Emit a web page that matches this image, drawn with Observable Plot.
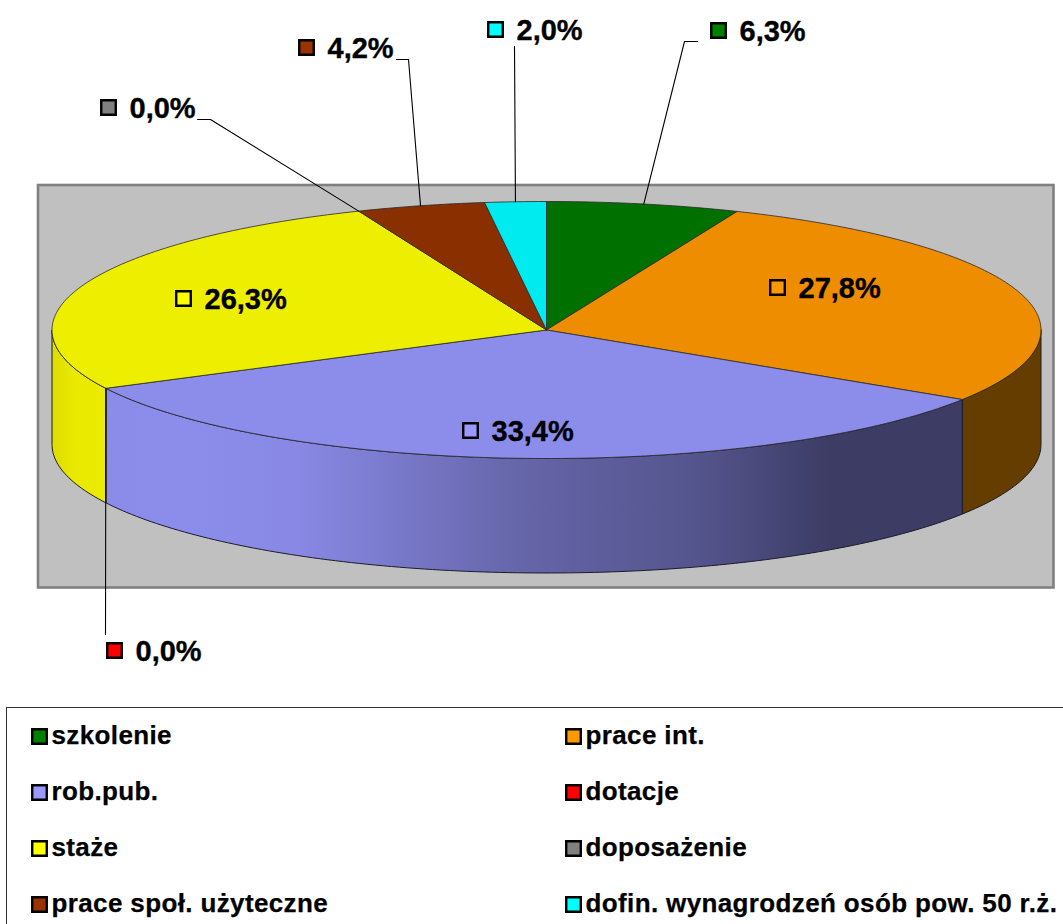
<!DOCTYPE html>
<html>
<head>
<meta charset="utf-8">
<style>
html,body{margin:0;padding:0;background:#fff;overflow:hidden}
svg{display:block}
</style>
<script src="https://cdn.jsdelivr.net/npm/d3@7"></script>
<script src="https://cdn.jsdelivr.net/npm/@observablehq/plot@0.6"></script>
</head>
<body>
<script>
// DATA
const categories = ["szkolenie","prace int.","rob.pub.","dotacje","staże","doposażenie","prace społ. użyteczne","dofin. wynagrodzeń osób pow. 50 r.ż."];
const values = [6.3,27.8,33.4,0,26.3,0,4.2,2.0];
const valueLabels = ["6,3%","27,8%","33,4%","0,0%","26,3%","0,0%","4,2%","2,0%"];
const legendColors = ["#008000","#ff9900","#9999ff","#ff0000","#ffff00","#808080","#993300","#00ffff"];
const topColors = ["#007000","#ee8d00","#8c8ceb","#ee0000","#eeee00","#787878","#8a2f00","#00ebf0"];

// LAYOUT (page pixels)
const W = 1063, H = 924;
const cx = 546, cy = 329.5, rx = 494.5, ry = 128.5, depthPx = 114.5;
const labelPos = [[718,30],[777,287],[470,430],[114,650],[183,298],[108,107],[306,47],[495,29]];
const labelTextDx = 21;
const labelTextDy = 1;
const elbows = {0:[[697,41],[684,41]],3:[[105,634]],5:[[197,119],[210,119]],6:[[396,59],[408,59]],7:[[514,46]]};
const legendCols = [39,573], legendRows = [736,792,848,904];
const shadeStops = [[52,.93],[75,.985],[180,1],[300,.97],[520,.72],[700,.6],[830,.43],[1040,.43]];

// px -> pie units
const ux = px => (px - cx) / rx;
const uy = py => (cy - py) / ry;
const depth = depthPx / ry;

// cumulative angles
const total = d3.sum(values);
let acc = 0;
const slices = values.map((v,i) => {
  const a0 = acc / total * 2 * Math.PI; acc += v;
  const a1 = acc / total * 2 * Math.PI;
  return {i, v, a0, a1, mid:(a0+a1)/2};
});
const arcPts = (a0,a1) => {
  const n = Math.max(2, Math.ceil((a1-a0)/(Math.PI/180)));
  return d3.range(n+1).map(k => a0 + (a1-a0)*k/n);
};
const topPoly = s => [{x:0,y:0}, ...arcPts(s.a0,s.a1).map(a=>({x:Math.sin(a),y:Math.cos(a)})), {x:0,y:0}];
const wallPoly = (a0,a1) => {
  const p = arcPts(a0,a1);
  const top = p.map(a=>({x:Math.sin(a),y:Math.cos(a)}));
  const bot = p.slice().reverse().map(a=>({x:Math.sin(a),y:Math.cos(a)-depth}));
  return [...top,...bot,top[0]];
};
const visible = slices.filter(s=>s.v>0);
const walls = visible.map(s=>{
  const a0=Math.max(s.a0,Math.PI/2), a1=Math.min(s.a1,3*Math.PI/2);
  return a1>a0 ? {i:s.i,pts:wallPoly(a0,a1)} : null;
}).filter(Boolean);

const defs = () => {
  const d = d3.create("svg:defs");
  walls.forEach(w=>{
    const g = d.append("linearGradient").attr("id","wall"+w.i)
      .attr("gradientUnits","userSpaceOnUse")
      .attr("x1",52).attr("x2",1040).attr("y1",0).attr("y2",0);
    const c = d3.rgb(topColors[w.i]);
    shadeStops.forEach(([x,f])=>{
      g.append("stop").attr("offset",(x-52)/988)
       .attr("stop-color",d3.rgb(c.r*f,c.g*f,c.b*f).formatHex());
    });
  });
  return d.node();
};

const leaderRows = slices.flatMap(s=>{
  if(!elbows[s.i]) return [];
  const pts = elbows[s.i].map(([x,y])=>({x:ux(x),y:uy(y)}));
  return [...pts,{x:Math.sin(s.mid),y:Math.cos(s.mid)}].map(p=>({...p,k:s.i}));
});
const labelRows = slices.map(s=>({
  x:ux(labelPos[s.i][0]), y:uy(labelPos[s.i][1]),
  tx:ux(labelPos[s.i][0]+labelTextDx), ty:uy(labelPos[s.i][1]+labelTextDy),
  text:valueLabels[s.i], fill:legendColors[s.i]
}));
const legendRowsData = categories.map((c,i)=>({
  x:ux(legendCols[i%2]), y:uy(legendRows[Math.floor(i/2)]),
  tx:ux(legendCols[i%2]+12), ty:uy(legendRows[Math.floor(i/2)]-1),
  text:c, fill:legendColors[i]
}));

const font = "'Liberation Sans',Arial,sans-serif";
const plot = Plot.plot({
  width:W, height:H, margin:0,
  style:{background:"#fff",overflow:"hidden"},
  x:{domain:[-1,1],range:[cx-rx,cx+rx],axis:null},
  y:{domain:[-1,1],range:[cy+ry,cy-ry],axis:null},
  marks:[
    defs,
    Plot.rect([0],{x1:ux(38),x2:ux(1053.5),y1:uy(185),y2:uy(587.5),fill:"#c0c0c0",stroke:"#808080",strokeWidth:2.6}),
    ...walls.map(w=>Plot.line(w.pts,{x:"x",y:"y",fill:`url(#wall${w.i})`,stroke:"#1c1c28",strokeWidth:1,curve:"linear"})),
    ...visible.map(s=>Plot.line(topPoly(s),{x:"x",y:"y",fill:topColors[s.i],stroke:"#2a2a2a",strokeWidth:0.8,curve:"linear"})),
    Plot.line(leaderRows,{x:"x",y:"y",z:"k",stroke:"#000",strokeWidth:1.1,curve:"linear"}),
    Plot.dot(labelRows,{x:"x",y:"y",symbol:"square",r:8.2,fill:"fill",stroke:"#000",strokeWidth:2.4}),
    Plot.text(labelRows,{x:"tx",y:"ty",text:"text",textAnchor:"start",fontFamily:font,fontWeight:"bold",fontSize:29,fill:"#000",stroke:"#000",strokeWidth:0.35}),
    Plot.rect([0],{x1:ux(6.5),x2:ux(1070),y1:uy(707.5),y2:uy(940),fill:"none",stroke:"#333",strokeWidth:1}),
    Plot.dot(legendRowsData,{x:"x",y:"y",symbol:"square",r:8.2,fill:"fill",stroke:"#000",strokeWidth:2.4}),
    Plot.text(legendRowsData,{x:"tx",y:"ty",text:"text",textAnchor:"start",fontFamily:font,fontWeight:"bold",fontSize:26,fill:"#000",stroke:"#000",strokeWidth:0.25})
  ]
});
d3.select(plot).selectAll('g[font-size="26"] text').style("letter-spacing","0.37px");
document.body.appendChild(plot);
</script>
</body>
</html>
